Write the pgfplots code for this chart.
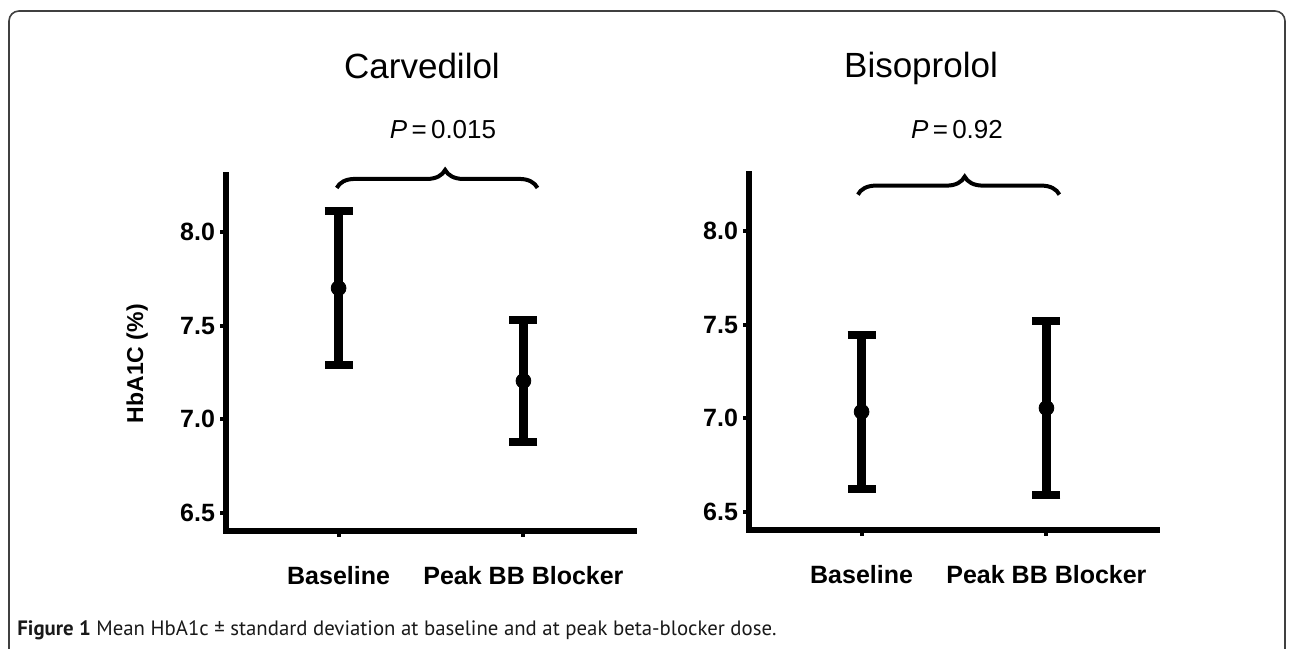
\documentclass[border=0pt]{standalone}
\usepackage{pgfplots}
\usepackage{pgfplotstable}
\pgfplotsset{compat=1.18}
\usepackage{fontspec}
\setmainfont{Liberation Sans}
\newfontfamily\capfont{PT Sans}
\usetikzlibrary{decorations.pathreplacing}

\pgfplotstableread{
x y e
0 7.700 0.410
1 7.205 0.325
}\carv
\pgfplotstableread{
x y e
0 7.035 0.410
1 7.055 0.465
}\biso

\pgfplotsset{hba/.style={
  scale only axis, width=204pt, height=178pt,
  xmin=-0.609, xmax=1.598, ymin=6.404, ymax=8.304,
  axis lines=left,
  axis line style={line width=3pt, -, line cap=rect},
  clip=false,
  xtick={0,1},
  ytick={6.5,7,7.5,8},
  tick align=outside,
  major tick length=3pt,
  tick style={line width=2pt, black},
  /pgf/number format/assume math mode=true,
  tick label style={font=\bfseries\fontsize{12.5}{14}\selectfont},
  yticklabel style={xshift=1pt, /pgf/number format/fixed, /pgf/number format/fixed zerofill, /pgf/number format/precision=1},
  xticklabel style={font=\bfseries\fontsize{12.5}{14}\selectfont, yshift=-11pt},
}}

\begin{document}
\begin{tikzpicture}
\useasboundingbox (0,0) rectangle (645pt,324pt);
\begin{scope}
\clip (0,0) rectangle (645pt,324pt);
\draw[rounded corners=5pt, line width=0.8pt, black!75] (4.5pt,-20pt) -- (4.5pt,318.5pt) -- (642.5pt,318.5pt) -- (642.5pt,-20pt);
\end{scope}

\begin{axis}[hba, at={(113pt,58.5pt)}, anchor=south west,
  xticklabels={Baseline, Peak BB Blocker},
  ylabel={\bfseries\fontsize{11.5}{13}\selectfont HbA1C (\%)},
  ylabel style={at={(axis description cs:-0.218,0.47)}, anchor=center}]
\addplot[black, only marks, mark=*, mark size=3.7pt,
     error bars/.cd, y dir=both, y explicit,
     error bar style={line width=4.8pt, black},
     error mark options={rotate=90, line width=4pt, mark size=7pt, black}]
  table[x=x, y=y, y error=e]{\carv};
\draw[decorate, decoration={brace, amplitude=9pt, aspect=0.54}, line width=2pt] (axis cs:-0.01,8.235) -- (axis cs:1.076,8.235);
\end{axis}

\begin{axis}[hba, at={(374.5pt,59pt)}, anchor=south west,
  xticklabels={Baseline, Peak BB Blocker}]
\addplot[black, only marks, mark=*, mark size=3.7pt,
     error bars/.cd, y dir=both, y explicit,
     error bar style={line width=4.8pt, black},
     error mark options={rotate=90, line width=4pt, mark size=7pt, black}]
  table[x=x, y=y, y error=e]{\biso};
\draw[decorate, decoration={brace, amplitude=9pt, aspect=0.53}, line width=2pt] (axis cs:-0.02,8.194) -- (axis cs:1.07,8.194);
\end{axis}

\begin{scope}[x=0.5pt, y=-0.5pt, shift={(0,324pt)}]
\node[anchor=base, inner sep=0pt, font=\fontsize{17.5}{20}\selectfont] at (422,79) {Carvedilol};
\node[anchor=base, inner sep=0pt, font=\fontsize{17.5}{20}\selectfont] at (921,78) {Bisoprolol};
\node[anchor=base, inner sep=0pt, font=\fontsize{13}{15}\selectfont] at (443,139) {\textit{P}\,=\,0.015};
\node[anchor=base, inner sep=0pt, font=\fontsize{13}{15}\selectfont] at (957,139) {\textit{P}\,=\,0.92};
\node[anchor=base west, inner sep=0pt, font=\capfont\fontsize{10.4}{12}\selectfont, text=black!90] at (17,635) {\textbf{Figure 1} Mean HbA1c ± standard deviation at baseline and at peak beta-blocker dose.};
\end{scope}
\end{tikzpicture}
\end{document}
